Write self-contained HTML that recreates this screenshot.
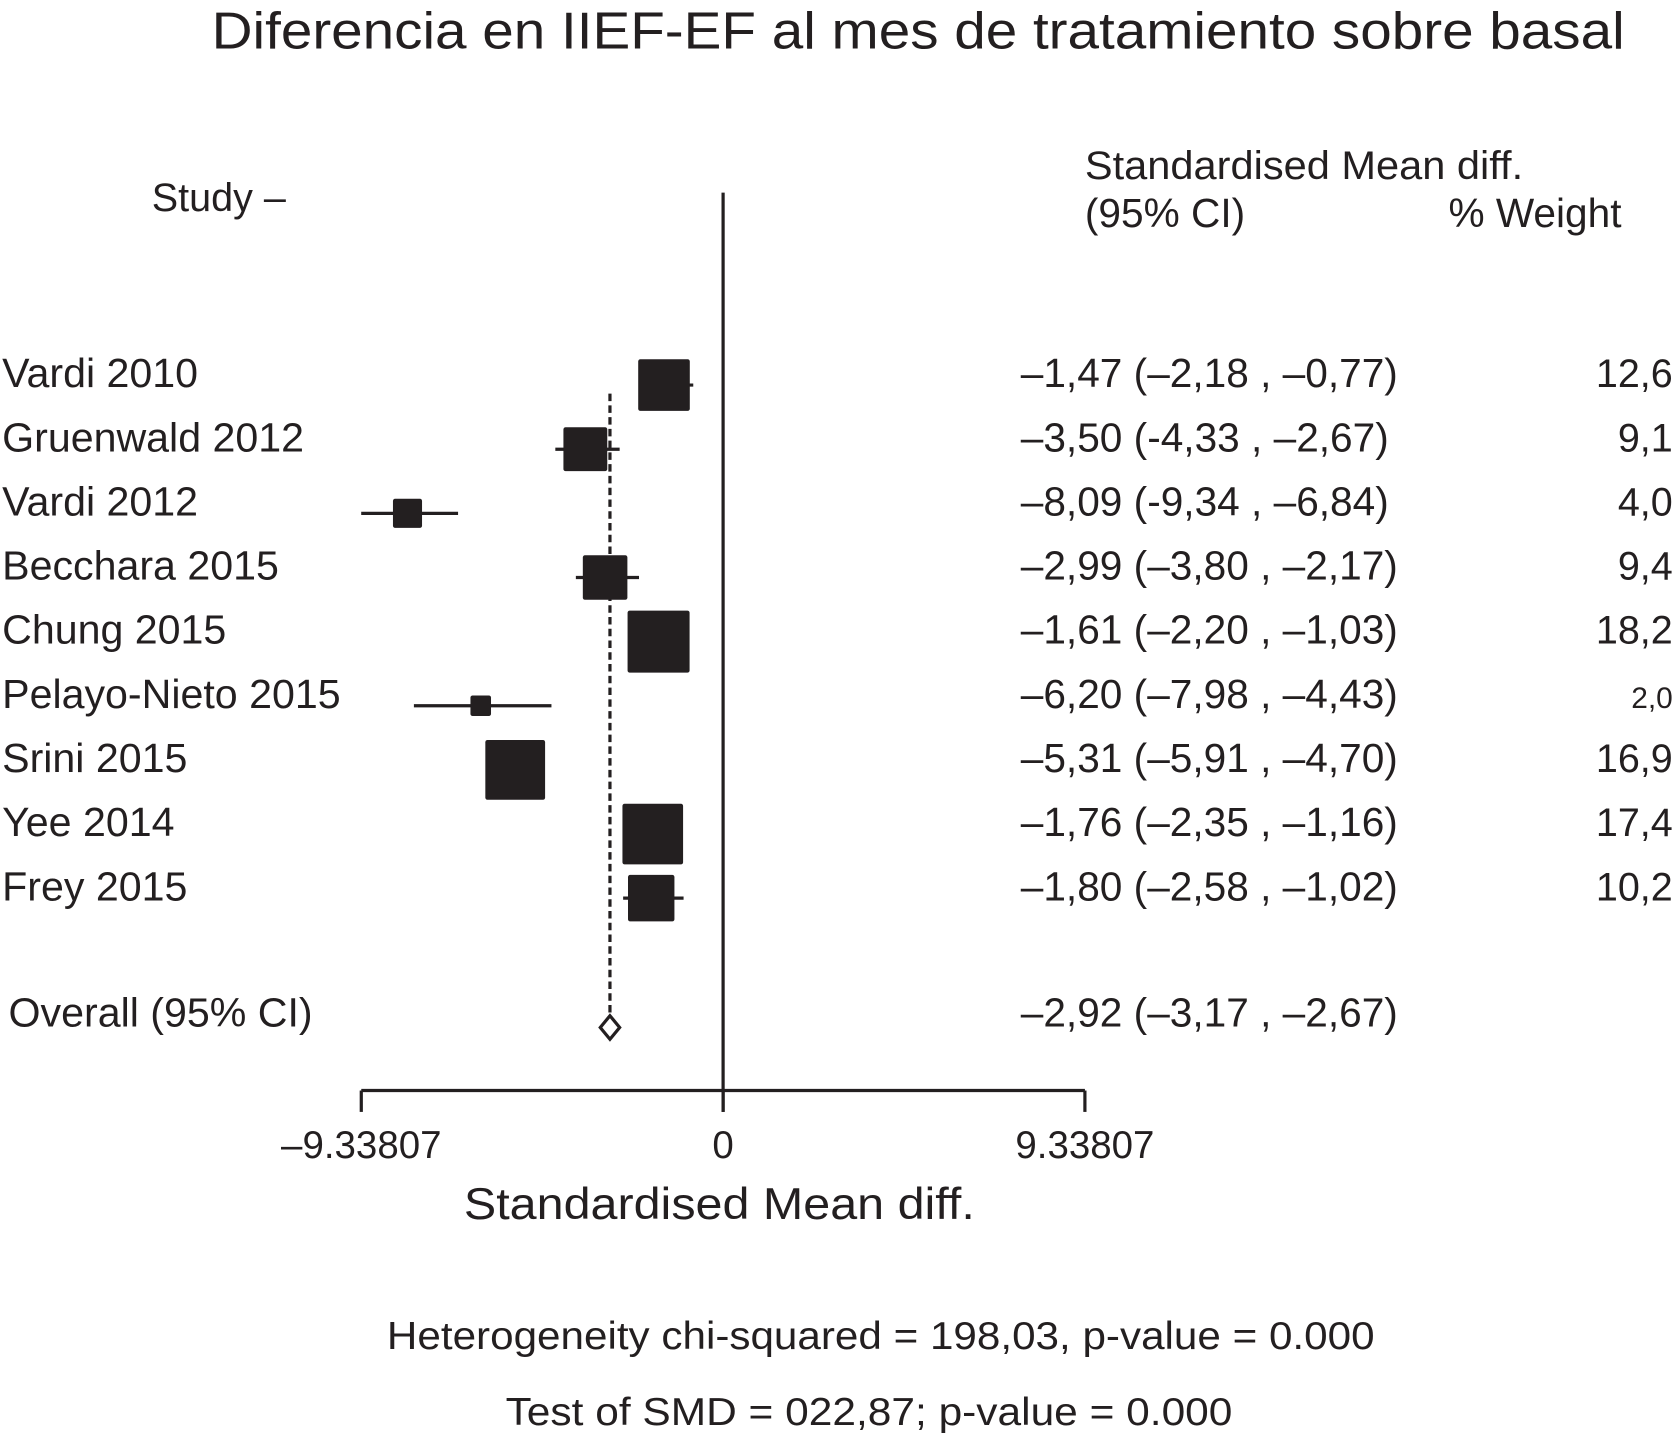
<!DOCTYPE html>
<html><head><meta charset="utf-8"><style>
html,body{margin:0;padding:0;background:#fff;}
svg{display:block;}
text{font-family:"Liberation Sans",Arial,sans-serif;fill:#231f20;}
</style></head><body>
<svg id="chart" width="1676" height="1435" viewBox="0 0 1568 1342" xmlns="http://www.w3.org/2000/svg">
<text x="198" y="45" font-size="49" textLength="1322" lengthAdjust="spacingAndGlyphs">Diferencia en IIEF-EF al mes de tratamiento sobre basal</text>
<text x="142" y="197" font-size="37">Study –</text>
<text x="1015" y="167" font-size="37" textLength="410" lengthAdjust="spacingAndGlyphs">Standardised Mean diff.</text>
<text x="1015" y="212" font-size="38">(95% CI)</text>
<text x="1517" y="212" font-size="38" text-anchor="end">% Weight</text>
<g id="marks"></g>
<text x="673" y="1140" font-size="42" text-anchor="middle" textLength="478" lengthAdjust="spacingAndGlyphs">Standardised Mean diff.</text>
<text x="824" y="1262" font-size="36" text-anchor="middle" textLength="924" lengthAdjust="spacingAndGlyphs">Heterogeneity chi-squared = 198,03, p-value = 0.000</text>
<text x="813" y="1333" font-size="36" text-anchor="middle" textLength="680" lengthAdjust="spacingAndGlyphs">Test of SMD = 022,87; p-value = 0.000</text>
</svg>
<script>
const studies = ["Vardi 2010","Gruenwald 2012","Vardi 2012","Becchara 2015","Chung 2015","Pelayo-Nieto 2015","Srini 2015","Yee 2014","Frey 2015"];
const smd = [-1.47,-3.50,-8.09,-2.99,-1.61,-6.20,-5.31,-1.76,-1.80];
const lower = [-2.18,-4.33,-9.34,-3.80,-2.20,-7.98,-5.91,-2.35,-2.58];
const upper = [-0.77,-2.67,-6.84,-2.17,-1.03,-4.43,-4.70,-1.16,-1.02];
const weights = [12.6,9.1,4.0,9.4,18.2,2.0,16.9,17.4,10.2];
const ciLabels = ["–1,47 (–2,18 , –0,77)","–3,50 (-4,33 , –2,67)","–8,09 (-9,34 , –6,84)","–2,99 (–3,80 , –2,17)","–1,61 (–2,20 , –1,03)","–6,20 (–7,98 , –4,43)","–5,31 (–5,91 , –4,70)","–1,76 (–2,35 , –1,16)","–1,80 (–2,58 , –1,02)"];
const weightLabels = ["12,6","9,1","4,0","9,4","18,2","2,0","16,9","17,4","10,2"];
const overall = [-2.92,-3.17,-2.67];
const overallLabel = "–2,92 (–3,17 , –2,67)";
const axisMax = 9.33807;
const tickValues = [-9.33807,0,9.33807];
const tickLabels = ["–9.33807","0","9.33807"];

const NS="http://www.w3.org/2000/svg";
const g=document.getElementById('marks');
const x0=338,x1=1015;
const xs=v=>x0+(v+axisMax)/(2*axisMax)*(x1-x0);
const rowY=i=>360+i*60;
function mk(tag,attrs,parent){const e=document.createElementNS(NS,tag);for(const k in attrs)e.setAttribute(k,attrs[k]);(parent||g).appendChild(e);return e;}

let zl=mk('line',{x1:xs(0),x2:xs(0),y1:180,y2:1040,stroke:'#231f20','stroke-width':3});


let dl=mk('line',{x1:xs(overall[0]),x2:xs(overall[0]),y1:368,y2:950,stroke:'#231f20','stroke-width':3,'stroke-dasharray':'7,4'});


let ax=mk('line',{x1:xs(tickValues[0]),x2:xs(tickValues[2]),y1:1020,y2:1020,stroke:'#231f20','stroke-width':3});


tickValues.forEach((v,i)=>{
  let t=mk('line',{x1:xs(v),x2:xs(v),y1:1020,y2:1040,stroke:'#231f20','stroke-width':3});
  
  
  let l=mk('text',{x:xs(v),y:1083,'font-size':36,'text-anchor':'middle'});
  l.textContent=tickLabels[i];
  
  
});

studies.forEach((s,i)=>{
  const y=rowY(i);
  let n=mk('text',{x:2,y:y+2,'font-size':38.5});
  n.textContent=s;
  
  
  let c=mk('line',{x1:xs(lower[i]),x2:xs(upper[i]),y1:y,y2:y,stroke:'#231f20','stroke-width':3});
  
  
  const sz=13.6*Math.sqrt(weights[i]);
  let r=mk('rect',{x:xs(smd[i])-sz/2-2,y:y-sz/2,width:sz,height:sz,fill:'#231f20',rx:2});
  
  
  let ct=mk('text',{x:955,y:y+2,'font-size':38});
  ct.textContent=ciLabels[i];
  
  
  let wt=mk('text',{x:1565,y:y+2,'font-size':weightLabels[i]==="2,0"?28:37,'text-anchor':'end'});
  wt.textContent=weightLabels[i];
  
  
});

const oy=961;
let on=mk('text',{x:8,y:960,'font-size':38.5});
on.textContent="Overall (95% CI)";


let dia=mk('polygon',{points:`${xs(overall[1])},${oy} ${xs(overall[0])},${oy-11} ${xs(overall[2])},${oy} ${xs(overall[0])},${oy+11}`,fill:'#fff',stroke:'#231f20','stroke-width':3});


let ov=mk('text',{x:955,y:960,'font-size':38});
ov.textContent=overallLabel;


</script>
</body></html>
